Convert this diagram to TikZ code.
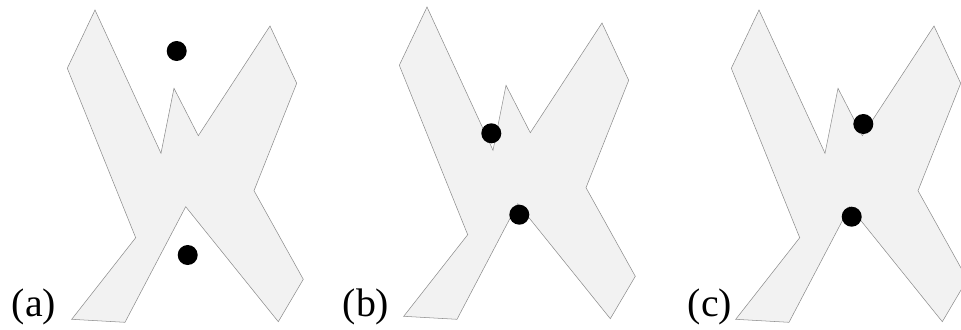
\documentclass[tikz,border=0pt]{standalone}
\usepackage{fontspec}
\setmainfont{Liberation Serif}
\usepackage{xcolor}
\usetikzlibrary{positioning}
\definecolor{EDGE}{HTML}{8C8C8C}
\definecolor{BODY}{HTML}{F2F2F2}
\definecolor{INK}{HTML}{000000}

\begin{document}
\begin{tikzpicture}[
  x=0.03cm, y=-0.03cm,
  region/.style={draw=EDGE, fill=BODY, line width=0.45pt, line join=miter},
  dot/.style={circle, fill=INK, inner sep=0pt, minimum size=0.6cm},
  tag/.style={anchor=base, text=INK, inner sep=0pt, font=\fontsize{34}{34}\selectfont}
]
\useasboundingbox (0,0) rectangle (961,329);

% the three X shaped regions, same outline shifted
\foreach \dx/\dy/\lbl in {0/0/a, 332/-3/b, 664/0/c}{
  \begin{scope}[shift={(\dx,\dy)}]
    \draw[region] (95,10) -- (161,153.3) -- (174,88.3) -- (198.3,135.7)
      -- (270,26) -- (296.7,83.3) -- (254,190.7) -- (303.3,279.3)
      -- (278.3,321.7) -- (185.7,206.7) -- (125,322.3) -- (71.7,319.3)
      -- (135.7,237.7) -- (67.3,68.3) -- cycle;
  \end{scope}
}

% labels
\node[tag] (la) at (34,316) {(a)};
\node[tag] (lb) at (366,316) {(b)};
\node[tag] (lc) at (710,316) {(c)};

% points
\node[dot] (a1) at (176.7,51) {};
\node[dot] (a2) at (187.7,255) {};
\node[dot] (b1) at (491.3,133.3) {};
\node[dot] (b2) at (519.3,214.7) {};
\node[dot] (c1) at (863.3,124) {};
\node[dot] (c2) at (851.7,216.7) {};

\end{tikzpicture}
\end{document}
